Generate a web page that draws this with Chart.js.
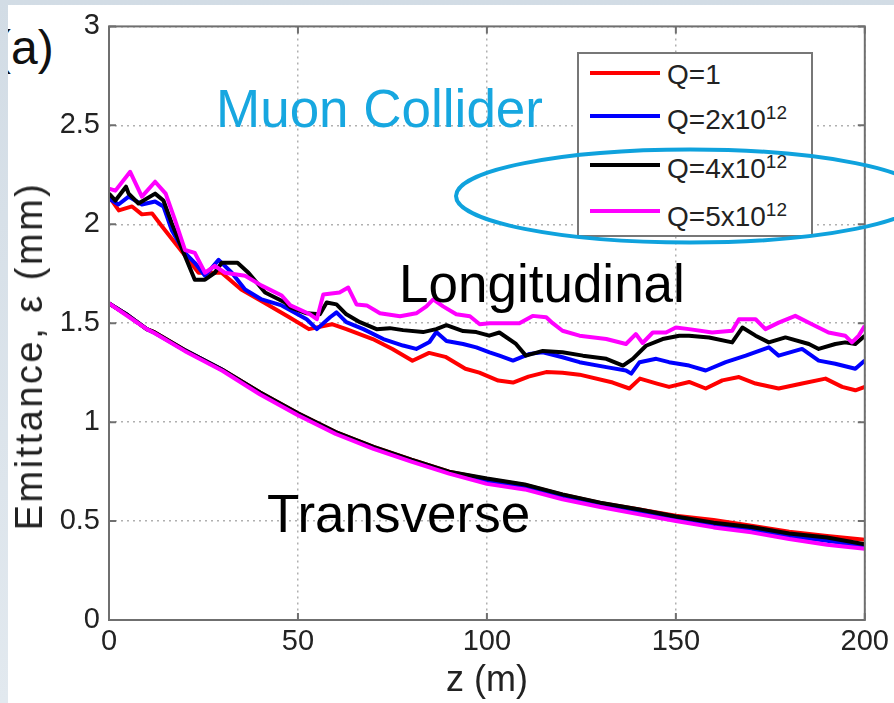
<!DOCTYPE html>
<html><head><meta charset="utf-8">
<script src="https://cdn.jsdelivr.net/npm/chart.js@4/dist/chart.umd.min.js"></script>
<style>
html,body{margin:0;padding:0;}
body{width:894px;height:703px;overflow:hidden;position:relative;background:linear-gradient(180deg,#d2dce5 0%,#e2e9ef 100%);font-family:"Liberation Sans",Arial,sans-serif;}
#panel{position:absolute;left:8px;top:5px;right:0;bottom:0;background:#fff;overflow:hidden;}
#tag{position:absolute;left:-13px;top:19px;font-size:48px;line-height:1;color:#111;white-space:nowrap;}
#c{position:absolute;left:0;top:0;}
.big{position:absolute;font-size:53px;line-height:1;white-space:nowrap;color:#000;}
#ylab{position:absolute;left:29px;top:356px;transform:translate(-50%,-50%) rotate(-90deg);font-size:38px;line-height:1;letter-spacing:2.5px;white-space:nowrap;color:#222;}
#legend{position:absolute;left:577px;top:52px;width:236px;height:185px;box-sizing:border-box;border:2px solid #777;background:#fff;}
.lline{position:absolute;left:590px;width:70px;height:4px;}
.ltxt{position:absolute;left:667px;font-size:28px;line-height:1;white-space:nowrap;color:#222;}
.ltxt sup{font-size:19px;position:relative;top:-3px;vertical-align:top;line-height:1;}
svg{position:absolute;left:0;top:0;pointer-events:none;}
</style></head>
<body>
<div id="panel"><div id="tag">(a)</div></div>
<canvas id="c" width="894" height="703"></canvas>
<div class="big" style="left:216px;top:82px;color:#17a7e0;">Muon Collider</div>
<div class="big" style="left:399px;top:257px;">Longitudinal</div>
<div class="big" style="left:267px;top:487px;">Transverse</div>
<div id="ylab">Emittance, ε (mm)</div>
<div id="legend"></div>
<div class="lline" style="top:71px;background:#ff0000"></div>
<div class="lline" style="top:114px;background:#0000ff"></div>
<div class="lline" style="top:163px;background:#000000"></div>
<div class="lline" style="top:209px;background:#ff00ff"></div>
<div class="ltxt" style="top:61px">Q=1</div>
<div class="ltxt" style="top:106px">Q=2x10<sup>12</sup></div>
<div class="ltxt" style="top:155px">Q=4x10<sup>12</sup></div>
<div class="ltxt" style="top:203px">Q=5x10<sup>12</sup></div>
<svg width="894" height="703"><ellipse cx="690" cy="196" rx="234" ry="46.5" fill="none" stroke="#0fa2dd" stroke-width="4"/></svg>
<script>
// ---- data ----
const xTicks = [0, 50, 100, 150, 200];
const yTicks = [0, 0.5, 1, 1.5, 2, 2.5, 3];
const seriesLabels = ['Q=1', 'Q=2x10^12', 'Q=4x10^12', 'Q=5x10^12'];

// Longitudinal emittance: [z (m), emittance (mm)]
const longQ1 = [[0,2.14],[2.6,2.07],[6.1,2.09],[8.7,2.05],[11.4,2.055],[14,1.99],[17.5,1.905],[21,1.82],[23.7,1.755],[29.8,1.755],[35,1.67],[41,1.605],[47.7,1.53],[52.9,1.47],[59,1.495],[62.8,1.47],[69.8,1.42],[75,1.37],[80.3,1.31],[84.7,1.35],[89,1.33],[94.3,1.27],[98,1.25],[103,1.21],[106.9,1.20],[111,1.23],[115.7,1.253],[120,1.25],[124.5,1.24],[133.3,1.20],[137.7,1.17],[140.5,1.22],[145,1.195],[148.2,1.178],[153.5,1.203],[157.9,1.17],[162.3,1.211],[166.7,1.228],[171.1,1.195],[177.2,1.17],[183.4,1.195],[189.6,1.22],[194,1.178],[197.5,1.161],[200,1.178]];
const longQ2 = [[0,2.13],[2.5,2.10],[5.2,2.14],[8.7,2.10],[12.2,2.115],[14.4,2.09],[16.6,1.97],[20.1,1.855],[22.7,1.805],[25.4,1.74],[29,1.82],[32.5,1.755],[36,1.67],[40.4,1.62],[45.7,1.59],[48,1.565],[52.3,1.52],[55,1.47],[58.5,1.53],[60.2,1.555],[62.8,1.505],[67.3,1.47],[72.6,1.42],[77.8,1.387],[81.3,1.37],[84.8,1.405],[86.6,1.455],[89.3,1.41],[93.7,1.395],[97.2,1.378],[100.7,1.353],[103.3,1.336],[106.9,1.311],[111.3,1.345],[114.8,1.353],[120,1.328],[124.5,1.303],[131.6,1.278],[136.8,1.261],[138.2,1.245],[140.4,1.303],[144.8,1.32],[148.2,1.303],[153.5,1.286],[157.9,1.261],[163.2,1.303],[168.5,1.336],[174.6,1.378],[177.2,1.336],[183.4,1.37],[187.8,1.311],[192.2,1.295],[197.5,1.27],[200,1.311]];
const longQ4 = [[0,2.155],[1.7,2.12],[4.5,2.19],[5.2,2.155],[7.8,2.105],[12.2,2.155],[14.4,2.12],[16.6,2.005],[20.1,1.84],[22.7,1.72],[25.4,1.72],[28,1.755],[29.8,1.805],[34,1.805],[36.9,1.755],[41.3,1.655],[46.6,1.605],[48,1.58],[52.3,1.55],[55.8,1.545],[57.6,1.605],[60.2,1.595],[62.8,1.545],[66.4,1.505],[70.8,1.47],[74.3,1.475],[77.8,1.465],[83.1,1.455],[86.6,1.47],[89.3,1.49],[93.7,1.46],[97.2,1.455],[100.6,1.437],[103.3,1.453],[107.7,1.395],[110.3,1.336],[114.8,1.36],[120,1.353],[125.4,1.336],[131.6,1.32],[136,1.286],[138.6,1.32],[142.1,1.386],[146.5,1.42],[150.9,1.437],[153.5,1.437],[158.8,1.428],[164.9,1.403],[167.6,1.478],[171.1,1.437],[174.6,1.403],[179,1.428],[185.2,1.395],[187.8,1.37],[192.2,1.395],[194.8,1.403],[197.5,1.395],[200,1.437]];
const longQ5 = [[0,2.18],[1.7,2.17],[5.6,2.265],[8.7,2.14],[12.2,2.215],[15,2.155],[17.5,2.02],[20.1,1.87],[22.7,1.855],[25.4,1.755],[28,1.79],[30.7,1.755],[36,1.74],[40.4,1.69],[45.7,1.64],[48,1.59],[53.2,1.545],[55,1.52],[56.7,1.645],[61,1.655],[63.3,1.68],[65.5,1.595],[68.2,1.59],[71.7,1.55],[77,1.535],[81.3,1.55],[84,1.585],[85.8,1.62],[88.4,1.585],[91.9,1.545],[95.5,1.535],[98.1,1.495],[100.7,1.50],[103.3,1.50],[108.6,1.50],[112.1,1.537],[115.7,1.53],[117.4,1.50],[120,1.462],[124.5,1.437],[131.6,1.42],[136.8,1.395],[139.4,1.445],[141.2,1.40],[143.9,1.453],[147.4,1.453],[150,1.478],[153.5,1.47],[159.6,1.453],[164.9,1.462],[166.7,1.52],[171.1,1.52],[173.7,1.47],[177.2,1.503],[181.6,1.537],[186,1.495],[190.4,1.453],[194.8,1.437],[196.6,1.403],[198.4,1.437],[200,1.487]];

// Transverse emittance, shared z samples
const transZ  = [0,5,10,12,20,30,40,50,60,70,80,90,100,110,120,130,140,150,160,170,180,190,200];
const transQ1 = [1.60,1.54,1.47,1.455,1.365,1.265,1.15,1.045,0.95,0.875,0.81,0.75,0.712,0.683,0.633,0.592,0.56,0.527,0.505,0.476,0.446,0.425,0.405];
const transQ2 = [1.60,1.54,1.47,1.452,1.364,1.264,1.147,1.042,0.947,0.872,0.806,0.746,0.70,0.672,0.622,0.582,0.548,0.512,0.48,0.457,0.424,0.40,0.372];
const transQ4 = [1.60,1.54,1.47,1.455,1.365,1.265,1.15,1.045,0.95,0.875,0.81,0.75,0.715,0.685,0.635,0.593,0.56,0.523,0.492,0.47,0.437,0.417,0.383];
const transQ5 = [1.60,1.535,1.47,1.45,1.36,1.26,1.14,1.035,0.94,0.865,0.80,0.74,0.688,0.66,0.61,0.571,0.535,0.50,0.468,0.443,0.409,0.38,0.36];

// ---- styles ----
const lineColors = ['#ff0000', '#0000ff', '#000000', '#ff00ff'];
const longSets = [longQ1, longQ2, longQ4, longQ5];
const transSets = [transQ1, transQ2, transQ4, transQ5];

const datasets = [];
longSets.forEach((s, i) => {
  datasets.push({label: seriesLabels[i] + ' long', data: s.map(p => ({x: p[0], y: p[1]})),
    borderColor: lineColors[i], borderWidth: 4, pointRadius: 0, tension: 0, fill: false, order: 4 - i, borderJoinStyle: 'round'});
});
transSets.forEach((s, i) => {
  datasets.push({label: seriesLabels[i] + ' trans', data: transZ.map((z, j) => ({x: z, y: s[j]})),
    borderColor: lineColors[i], borderWidth: 4, pointRadius: 0, tension: 0, fill: false, order: 4 - i, borderJoinStyle: 'round'});
});

const frame = {
  id: 'frame',
  afterDraw(chart) {
    const {ctx, chartArea: a, scales: {x, y}} = chart;
    ctx.save();
    ctx.strokeStyle = '#6f6f6f';
    ctx.lineWidth = 2;
    ctx.beginPath();
    x.ticks.forEach(t => { const p = x.getPixelForValue(t.value);
      ctx.moveTo(p, a.bottom); ctx.lineTo(p, a.bottom - 7); ctx.moveTo(p, a.top); ctx.lineTo(p, a.top + 7); });
    y.ticks.forEach(t => { const p = y.getPixelForValue(t.value);
      ctx.moveTo(a.left, p); ctx.lineTo(a.left + 7, p); ctx.moveTo(a.right, p); ctx.lineTo(a.right - 7, p); });
    ctx.stroke();
    ctx.strokeRect(a.left, a.top, a.right - a.left, a.bottom - a.top);
    ctx.restore();
  }
};

const tickFont = {family: '"Liberation Sans", Arial, sans-serif', size: 29};
new Chart(document.getElementById('c'), {
  type: 'line',
  data: {datasets},
  options: {
    responsive: false, animation: false, devicePixelRatio: 1,
    layout: {padding: {left: 0, right: 28, top: 22, bottom: 0}},
    plugins: {legend: {display: false}, tooltip: {enabled: false}},
    scales: {
      x: {type: 'linear', min: 0, max: 200,
        afterBuildTicks: s => { s.ticks = xTicks.map(v => ({value: v})); },
        afterFit: s => { s.height = 83; },
        ticks: {font: tickFont, color: '#222', padding: 5, maxRotation: 0, callback: v => String(v)},
        grid: {color: '#b0b0b0', lineWidth: 1.5, drawTicks: false},
        border: {display: false, dash: [2, 4]},
        title: {display: true, text: 'z (m)', font: {family: '"Liberation Sans", Arial, sans-serif', size: 36}, color: '#222', padding: {top: 0, bottom: 0}}
      },
      y: {type: 'linear', min: 0, max: 3,
        afterBuildTicks: s => { s.ticks = yTicks.map(v => ({value: v})); },
        afterFit: s => { s.width = 109; },
        ticks: {font: tickFont, color: '#222', padding: 9, callback: v => String(v)},
        grid: {color: '#b0b0b0', lineWidth: 1.5, drawTicks: false},
        border: {display: false, dash: [2, 4]}
      }
    }
  },
  plugins: [frame]
});
</script>
</body></html>
